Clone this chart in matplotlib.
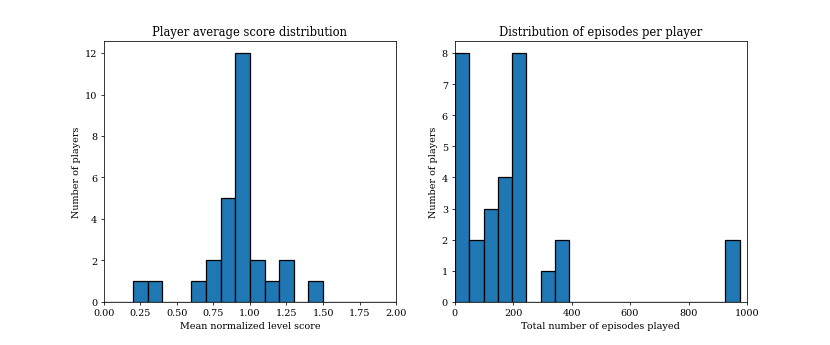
import numpy as np
import matplotlib
matplotlib.use("Agg")
import matplotlib.pyplot as plt

plt.rcParams['font.family'] = 'DejaVu Serif'

# score histogram: bins of 0.1 from 0 to 2
score_edges = np.round(np.arange(0, 2.01, 0.1), 2)
score_counts = [0, 0, 1, 1, 0, 0, 1, 2, 5, 12, 2, 1, 2, 0, 1, 0, 0, 0, 0, 0]

# episodes histogram: 20 bins between min and max
ep_min, ep_max = 2, 975
ep_counts = [8, 2, 3, 4, 8, 0, 1, 2, 0, 0, 0, 0, 0, 0, 0, 0, 0, 0, 0, 2]

fig, (ax1, ax2) = plt.subplots(1, 2, figsize=(12, 5))
fig.subplots_adjust(bottom=0.125)

ax1.hist(score_edges[:-1], bins=score_edges, weights=score_counts,
         edgecolor='black', linewidth=1.3)
ax1.set_xlim(0, 2)
ax1.set_xticks(np.arange(0, 2.01, 0.25))
ax1.set_title('Player average score distribution')
ax1.set_xlabel('Mean normalized level score')
ax1.set_ylabel('Number of players')

ep_edges = np.linspace(ep_min, ep_max, 21)
ax2.hist(ep_edges[:-1], bins=ep_edges, weights=ep_counts,
         edgecolor='black', linewidth=1.3)
ax2.set_xlim(0, 1000)
ax2.set_title('Distribution of episodes per player')
ax2.set_xlabel('Total number of episodes played')
ax2.set_ylabel('Number of players')

fig.savefig('out.png', dpi=830 / 12)
